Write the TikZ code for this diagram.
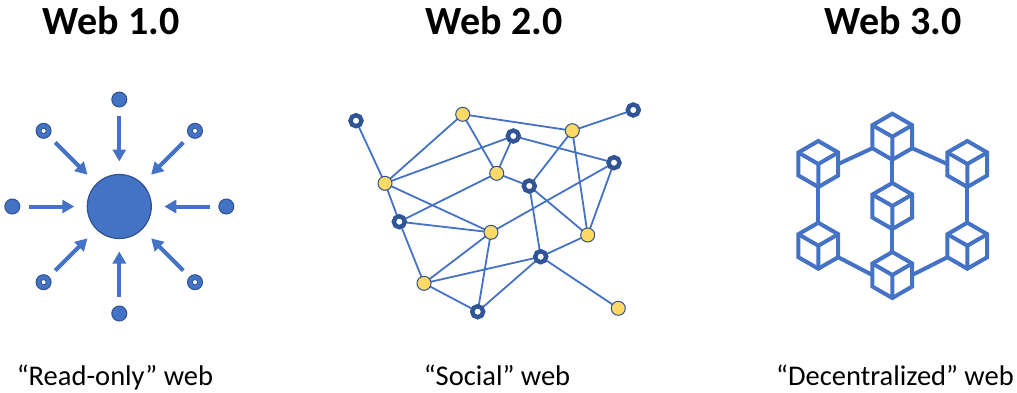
\documentclass[tikz,border=0pt]{standalone}
\usepackage{fontspec}
\setmainfont{Carlito}
\usetikzlibrary{arrows.meta,backgrounds}
\definecolor{wblue}{HTML}{4472C4}
\definecolor{wdark}{HTML}{2F528F}
\definecolor{wring}{HTML}{2F5597}
\definecolor{wyellow}{HTML}{FFD966}
\tikzset{
  title/.style={anchor=base, inner sep=0, font=\bfseries\fontsize{40}{48}\selectfont},
  caption/.style={anchor=base, inner sep=0, font=\fontsize{28.5}{34}\selectfont},
  hub/.style={circle, fill=wblue, draw=wdark, line width=1.2pt, minimum size=64pt, inner sep=0pt, outer sep=0pt},
  dot/.style={circle, fill=wblue, draw=wdark, line width=1pt, minimum size=15pt, inner sep=0pt, outer sep=0pt},
  inarrow/.style={draw=wblue, line width=4pt, -{Triangle[width=13pt, length=12pt]}, shorten <=9pt, shorten >=13pt},
  gnode/.style={circle, fill=wyellow, draw=wdark, line width=1pt, minimum size=14pt, inner sep=0pt, outer sep=0pt},
  rnode/.style={circle, fill=white, draw=wring, line width=4.4pt, minimum size=11pt, inner sep=0pt, outer sep=0pt},
  gedge/.style={draw=wblue, line width=1.8pt},
  cubeline/.style={draw=wblue, line width=4pt},
  cube/.pic={
    \draw[cubeline, fill=white] (90:23) -- (30:23) -- (330:23) -- (270:23) -- (210:23) -- (150:23) -- cycle;
    \draw[cubeline] (0,0) -- (210:23) (0,0) -- (330:23) (0,0) -- (90:23);
    \coordinate (-top) at (270:23);
    \coordinate (-bot) at (90:23);
    \coordinate (-lm) at (-19.92,0);
    \coordinate (-rm) at (19.92,0);
    \coordinate (-ll) at (150:23);
    \coordinate (-lr) at (30:23);
  }
}
\begin{document}
\begin{tikzpicture}[x=1pt, y=-1pt]
\path[use as bounding box] (0,0) rectangle (1017,392);

% Titles
\node[title] (t1) at (111,34) {Web 1.0};
\node[title] (t2) at (494,34) {Web 2.0};
\node[title] (t3) at (893,34) {Web 3.0};

% Captions
\node[caption] (c1) at (115,385) {“Read-only” web};
\node[caption] (c2) at (497,385) {“Social” web};
\node[caption] (c3) at (895,385) {“Decentralized” web};

% ---------- Web 1.0 ----------
\node[hub] (hub) at (119.3,206.5) {};
\node[dot] (d1) at (119.3,99.5) {};
\node[dot] (d2) at (119.3,313.5) {};
\node[dot] (d3) at (12.3,206.5) {};
\node[dot] (d4) at (226.3,206.5) {};
\node[dot] (d5) at (43.6,130.8) {};
\node[dot] (d6) at (195,130.8) {};
\node[dot] (d7) at (43.6,282.2) {};
\node[dot] (d8) at (195,282.2) {};
\foreach \n in {d5,d6,d7,d8}
  \draw[wdark, fill=white, line width=0.8pt] (\n.center) circle (2.6);
\foreach \n in {d1,d2,d3,d4,d5,d6,d7,d8}
  \draw[inarrow] (\n) -- (hub);

% ---------- Web 2.0 ----------
\node[rnode] (r1) at (356,120.7) {};
\node[rnode] (r2) at (513.3,136) {};
\node[rnode] (r3) at (633.3,110) {};
\node[rnode] (r4) at (614,162.7) {};
\node[rnode] (r5) at (529.3,186) {};
\node[rnode] (r6) at (399.3,221.7) {};
\node[rnode] (r7) at (540.7,256.7) {};
\node[rnode] (r8) at (477.7,311.7) {};
\node[gnode] (y1) at (462.7,114.3) {};
\node[gnode] (y2) at (572.3,130.7) {};
\node[gnode] (y3) at (385,183.3) {};
\node[gnode] (y4) at (496.7,173.3) {};
\node[gnode] (y5) at (491,232.3) {};
\node[gnode] (y6) at (587.7,235) {};
\node[gnode] (y7) at (424,283.3) {};
\node[gnode] (y8) at (618.3,308.3) {};
\begin{scope}[on background layer]
\foreach \a/\b in {r1/y3, y3/y1, y3/r2, y3/r6, y3/y5, y1/y4, y1/y2, r2/y4, r2/r4,
                   y2/r3, y2/r5, y2/y6, y4/r6, y4/r5, r4/y5, r4/y6, r5/r7, r5/y6,
                   r6/y5, r6/y7, y5/y7, y5/r8, y7/r7, y7/r8, r8/r7, r7/y6, r7/y8}
  \draw[gedge] (\a.center) -- (\b.center);
\end{scope}

% ---------- Web 3.0 ----------
\pic (tc) at (892.3,136.7) {cube};
\pic (cc) at (892.3,206) {cube};
\pic (bc) at (892.3,275) {cube};
\pic (lt) at (818.3,164) {cube};
\pic (lb) at (818.3,245.7) {cube};
\pic (rt) at (967.3,164) {cube};
\pic (rb) at (967.3,245.7) {cube};
\draw[cubeline] (lt-rm) -- (tc-ll);
\draw[cubeline] (tc-lr) -- (rt-lm);
\draw[cubeline] (lt-bot) -- (lb-top);
\draw[cubeline] (rt-bot) -- (rb-top);
\draw[cubeline] (tc-bot) -- (cc-top);
\draw[cubeline] (cc-bot) -- (bc-top);
\draw[cubeline] (lb-lr) -- (bc-lm);
\draw[cubeline] (bc-rm) -- (rb-ll);
\end{tikzpicture}
\end{document}
